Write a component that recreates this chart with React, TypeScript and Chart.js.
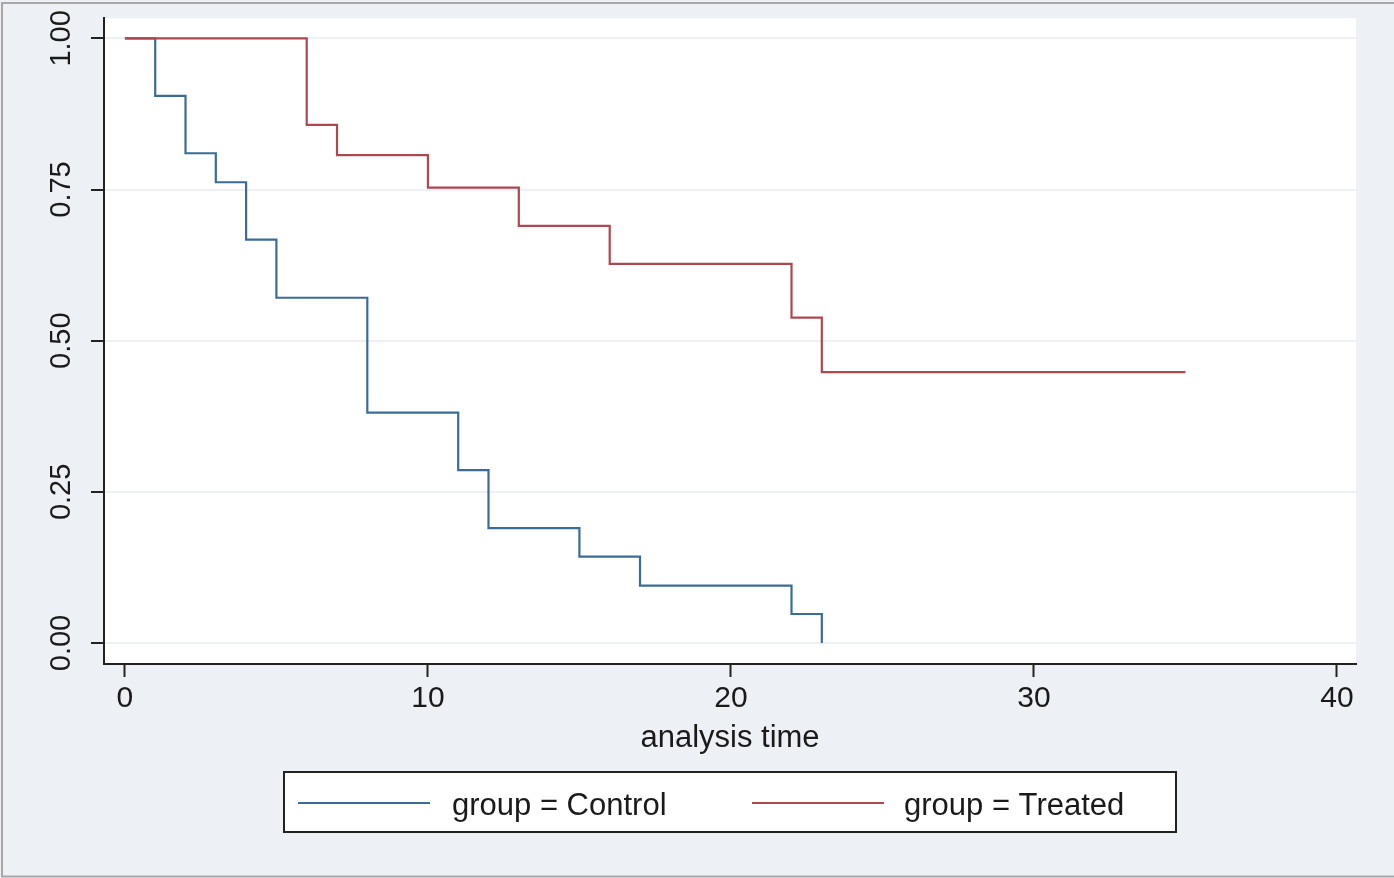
import React, { useEffect, useRef } from "react";
import { Chart, registerables } from "chart.js";

Chart.register(...registerables);

// Kaplan-Meier survival estimates (step points: time, survival after event)
const controlTimes = [0, 1, 2, 3, 4, 5, 8, 11, 12, 15, 17, 22, 23];
const controlSurv = [1.0, 0.905, 0.81, 0.762, 0.667, 0.571, 0.381, 0.286, 0.19, 0.143, 0.095, 0.048, 0.0];
const treatedTimes = [0, 6, 7, 10, 13, 16, 22, 23, 35];
const treatedSurv = [1.0, 0.857, 0.807, 0.753, 0.69, 0.627, 0.538, 0.448, 0.448];

const seriesLabels = ["group = Control", "group = Treated"];
const seriesColors = ["#3B6C96", "#AE4850"];

const xTicks = [0, 10, 20, 30, 40];
const yTicks = [0, 0.25, 0.5, 0.75, 1.0];
const yTickLabels = ["0.00", "0.25", "0.50", "0.75", "1.00"];
const xTitle = "analysis time";

const FONT = "'Liberation Sans', Arial, sans-serif";
const BG = "#EDF1F6";

const bgPlugin = {
  id: "bgPlugin",
  beforeDraw(chart: any) {
    const { ctx, width, height, chartArea } = chart;
    ctx.save();
    ctx.fillStyle = BG;
    ctx.fillRect(0, 0, width, height);
    ctx.fillStyle = "#FFFFFF";
    ctx.fillRect(chartArea.left, chartArea.top, chartArea.right - chartArea.left, chartArea.bottom - chartArea.top);
    ctx.strokeStyle = "#A8A8A8";
    ctx.lineWidth = 2;
    ctx.beginPath();
    ctx.moveTo(1, 3);
    ctx.lineTo(width, 3);
    ctx.moveTo(2, 3);
    ctx.lineTo(2, height - 1);
    ctx.moveTo(1, height - 1.5);
    ctx.lineTo(width, height - 1.5);
    ctx.stroke();
    ctx.restore();
  },
};

const legendPlugin = {
  id: "boxLegend",
  afterDraw(chart: any) {
    const { ctx } = chart;
    const bx = 284, by = 772, bw = 892, bh = 60;
    ctx.save();
    ctx.fillStyle = "#FFFFFF";
    ctx.fillRect(bx, by, bw, bh);
    ctx.strokeStyle = "#222222";
    ctx.lineWidth = 2;
    ctx.strokeRect(bx, by, bw, bh);
    const items = [
      { x0: 298, x1: 430, tx: 452 },
      { x0: 752, x1: 884, tx: 904 },
    ];
    chart.data.datasets.forEach((ds: any, i: number) => {
      const it = items[i];
      const cy = by + 31;
      ctx.strokeStyle = ds.borderColor;
      ctx.lineWidth = 2;
      ctx.beginPath();
      ctx.moveTo(it.x0, cy);
      ctx.lineTo(it.x1, cy);
      ctx.stroke();
      ctx.fillStyle = "#1a1a1a";
      ctx.font = `31px ${FONT}`;
      ctx.textBaseline = "middle";
      ctx.textAlign = "left";
      ctx.fillText(ds.label, it.tx, cy + 3);
    });
    ctx.restore();
  },
};

export default function App() {
  const ref = useRef<HTMLCanvasElement | null>(null);
  useEffect(() => {
    if (!ref.current) return;
    const chart = new Chart(ref.current, {
      type: "line",
      data: {
        datasets: [
          {
            label: seriesLabels[0],
            data: controlTimes.map((t, i) => ({ x: t, y: controlSurv[i] })),
            borderColor: seriesColors[0],
            borderWidth: 2.2,
            pointRadius: 0,
            stepped: "before",
            fill: false,
            order: 1,
          },
          {
            label: seriesLabels[1],
            data: treatedTimes.map((t, i) => ({ x: t, y: treatedSurv[i] })),
            borderColor: seriesColors[1],
            borderWidth: 2.2,
            pointRadius: 0,
            stepped: "before",
            fill: false,
            order: 0,
          },
        ],
      },
      options: {
        responsive: false,
        animation: false,
        layout: { padding: { left: 0, right: 38, top: 18, bottom: 118 } },
        plugins: { legend: { display: false }, tooltip: { enabled: false } },
        scales: {
          x: {
            type: "linear",
            min: -0.69,
            max: 40.63,
            afterBuildTicks: (s: any) => {
              s.ticks = xTicks.map((v) => ({ value: v }));
            },
            afterFit: (s: any) => {
              s.height = 96;
            },
            ticks: {
              color: "#1a1a1a",
              font: { family: FONT, size: 30 },
              padding: 4,
              maxRotation: 0,
              minRotation: 0,
              callback: (v: any) => String(v),
            },
            grid: {
              drawOnChartArea: false,
              drawTicks: true,
              tickLength: 13,
              tickWidth: 2,
              tickColor: "#222222",
            },
            border: { display: true, color: "#222222", width: 2 },
            title: {
              display: true,
              text: xTitle,
              color: "#1a1a1a",
              font: { family: FONT, size: 31 },
              padding: { top: 0, bottom: 3 },
            },
          },
          y: {
            type: "linear",
            min: -0.0347,
            max: 1.033,
            afterBuildTicks: (s: any) => {
              s.ticks = yTicks.map((v) => ({ value: v }));
            },
            afterFit: (s: any) => {
              s.width = 104;
            },
            ticks: {
              color: "#1a1a1a",
              font: { family: FONT, size: 29 },
              padding: 1,
              minRotation: 90,
              maxRotation: 90,
              crossAlign: "center",
              callback: (v: any) => {
                const idx = yTicks.indexOf(Number(v));
                return idx >= 0 ? yTickLabels[idx] : "";
              },
            },
            grid: {
              color: "#EDF1F5",
              lineWidth: 2,
              drawOnChartArea: true,
              drawTicks: true,
              tickLength: 13,
              tickWidth: 2,
              tickColor: "#222222",
            },
            border: { display: true, color: "#222222", width: 2 },
          },
        },
      },
      plugins: [bgPlugin, legendPlugin],
    } as any);
    return () => chart.destroy();
  }, []);
  return (
    <div style={{ position: "absolute", left: 0, top: 0, width: 1394, height: 878 }}>
      <canvas ref={ref} width={1394} height={878} style={{ display: "block", width: 1394, height: 878 }} />
    </div>
  );
}
